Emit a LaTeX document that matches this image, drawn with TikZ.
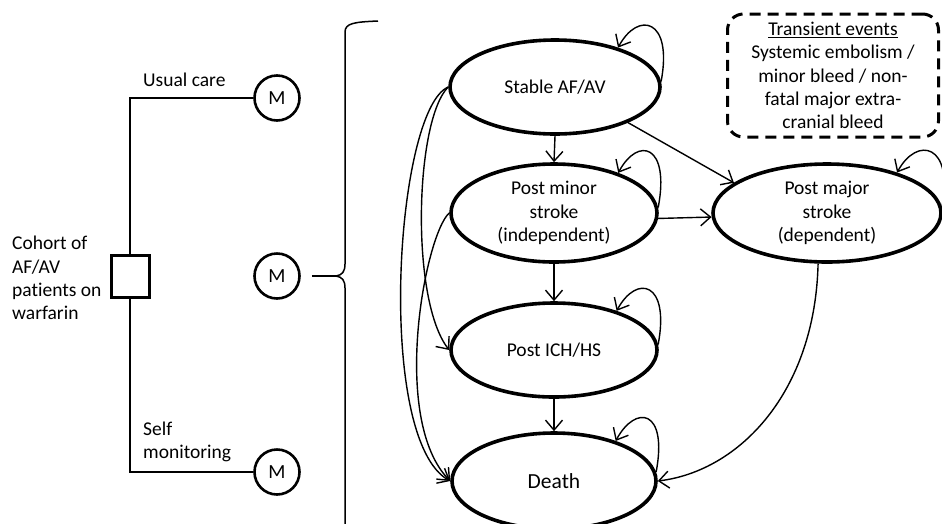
\documentclass[tikz,border=0pt]{standalone}
\usepackage{fontspec}
\setmainfont{Carlito}[Ligatures=NoCommon]
\usetikzlibrary{shapes.geometric,arrows.meta}
\begin{document}
\begin{tikzpicture}[x=1pt,y=1pt,
  txt/.style={font=\fontsize{19.5}{23.3}\selectfont, align=center, inner sep=0pt},
  state/.style={ellipse, draw, line width=3.6pt, inner sep=0pt, txt},
  mnode/.style={circle, draw, line width=2.6pt, minimum size=45pt, inner sep=0pt, font=\fontsize{20}{24}\selectfont},
  arr/.style={line width=1.4pt, -{Straight Barb[length=10pt,width=17pt,line width=1.4pt]}},
  ln/.style={line width=1.5pt},
]
\useasboundingbox (0,0) rectangle (942,-523);
\clip (0,0) rectangle (942,-523);

% decision tree
\node[draw, line width=3pt, minimum width=38pt, minimum height=42pt, inner sep=0pt, fill=white] (dec) at (130,-276) {};
\node[mnode] (m1) at (277,-98) {M};
\node[mnode] (m2) at (277,-276) {M};
\node[mnode] (m3) at (277,-472) {M};
\draw[ln] (dec.north) |- (m1.west);
\draw[ln] (dec.south) |- (m3.west);
\node[txt, anchor=west, align=left] (cohort) at (12,-278) {Cohort of\\AF/AV\\patients on\\warfarin};
\node[txt, anchor=west] (uc) at (143,-80) {Usual care};
\node[txt, anchor=west, align=left] (sm) at (143,-442) {Self\\monitoring};

% brace
\coordinate (btip) at (336,-276);
\draw[ln] ([xshift=11pt]m2.east) -- (btip);
\draw[ln] (378,-21) .. controls (355,-22) and (345,-23) .. (345,-32)
  -- (345,-264) .. controls (345,-272) and (342,-275) .. (btip)
  .. controls (342,-277) and (345,-280) .. (345,-288) -- (345,-540);

% states
\node[state, minimum width=210pt, minimum height=94pt] (stable) at (555,-87) {Stable AF/AV};
\node[state, minimum width=206pt, minimum height=98pt] (minor) at (554,-213) {Post minor\\stroke\\(independent)};
\node[state, minimum width=228pt, minimum height=98pt] (major) at (827,-213) {Post major\\stroke\\(dependent)};
\node[state, minimum width=206pt, minimum height=94pt] (ich) at (554,-350) {Post ICH/HS};
\node[state, minimum width=204pt, minimum height=96pt, font=\fontsize{21.5}{25}\selectfont] (death) at (554,-481) {Death};

% transient box
\node[draw, dashed, dash pattern=on 11pt off 7pt, line width=3pt, rounded corners=16pt,
  minimum width=211pt, minimum height=123pt, txt] (trans) at (833,-75.5)
  {\underline{Transient events}\\Systemic embolism /\\minor bleed / non-\\fatal major extra-\\cranial bleed};

% straight transitions
\draw[arr] (stable.south) -- (minor.north);
\draw[arr] (minor.south) -- (ich.north);
\draw[arr] (ich.south) -- (death.north);
\draw[arr] (stable.-26) -- (major.162);
\draw[arr] (minor.-3) -- (major.182);

% curved transitions
\draw[arr] (major.-100) .. controls +(-3,-128) and +(82,10) .. (death.east);
\draw[arr] (stable.west) .. controls (395,-110) and (375,-440) .. (death.west);
\draw[arr] (stable.west) .. controls (415,-120) and (410,-300) .. (ich.west);
\draw[arr] (minor.west) .. controls (425,-235) and (390,-420) .. (death.west);

% self loops
\draw[arr] (stable.3) .. controls +(12,63) and +(20,37) .. (stable.32);
\draw[arr] (minor.3) .. controls +(12,63) and +(20,37) .. (minor.32);
\draw[arr] (ich.3) .. controls +(12,63) and +(20,37) .. (ich.32);
\draw[arr] (death.5) .. controls +(12,63) and +(20,37) .. (death.33);
\draw[arr] (major.3) .. controls +(12,63) and +(20,37) .. (major.30);
\end{tikzpicture}
\end{document}
